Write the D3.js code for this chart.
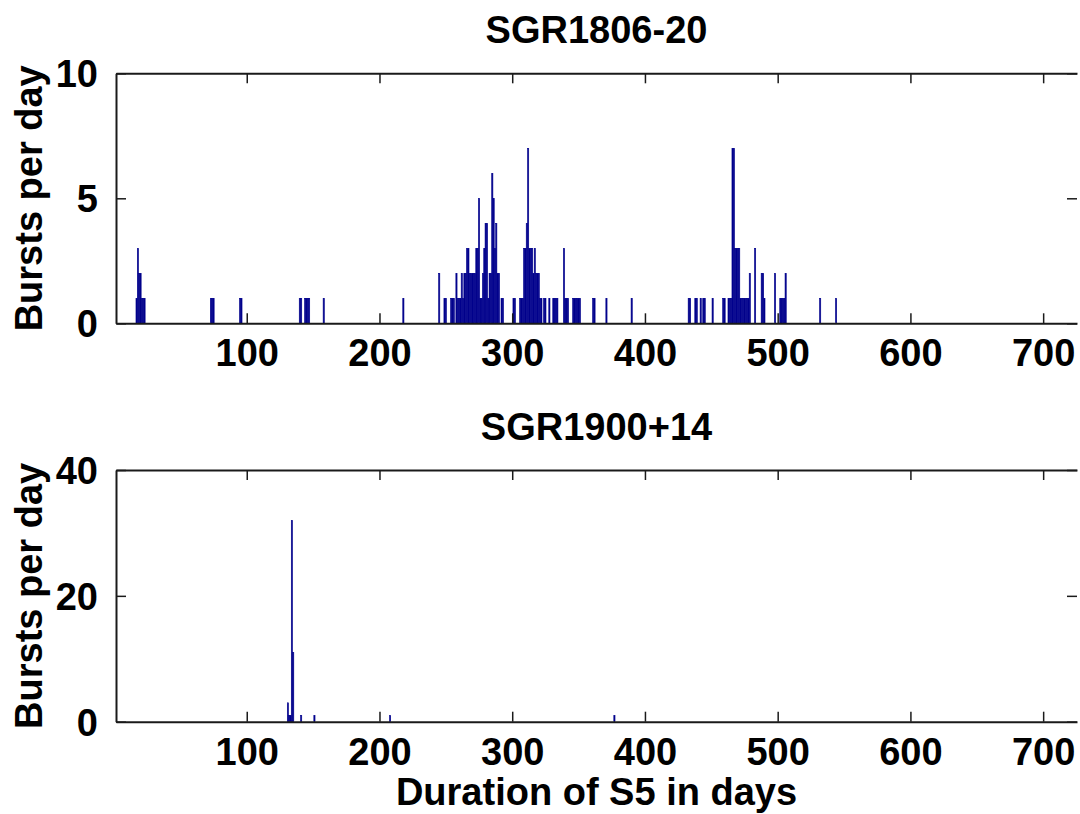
<!DOCTYPE html>
<html>
<head>
<meta charset="utf-8">
<script src="https://cdn.jsdelivr.net/npm/d3@7"></script>
<style>
  body { margin: 0; background: #fff; }
  text { font-family: "Liberation Sans", Arial, Helvetica, sans-serif; font-weight: bold; fill: #000; }
</style>
</head>
<body>
<div id="plot"></div>
<script>
// days with at least one burst, and the count for that day
var sgr1806Days = [17, 18, 19, 20, 21, 22, 23, 73, 74, 75, 95, 96, 140, 141, 144, 145, 146, 147, 158, 218,
  245, 249, 250, 254, 255, 256, 258, 259, 260, 261, 262, 263, 264, 265, 266, 267, 268, 269, 270, 271, 272,
  273, 274, 275, 276, 277, 278, 279, 280, 281, 282, 283, 284, 285, 286, 287, 288, 289, 290, 292, 293,
  301, 302, 306, 307, 308, 309, 310, 311, 312, 313, 314, 315, 316, 317, 318, 319, 320, 321, 322,
  324, 325, 328, 331, 332, 333, 334, 339, 340, 341, 342, 346, 347, 348, 349, 350, 351, 361, 362, 371, 390,
  433, 434, 438, 439, 442, 444, 445, 451, 459, 460, 463, 464, 465, 466, 467, 468, 469, 470, 471,
  472, 473, 474, 475, 476, 477, 478, 479, 483, 488, 489, 490, 498, 502, 503, 504, 505, 506, 532, 544];
var sgr1806Counts = [1, 3, 2, 2, 1, 1, 1, 1, 1, 1, 1, 1, 1, 1, 1, 1, 1, 1, 1, 1,
  2, 1, 1, 1, 1, 1, 2, 1, 1, 1, 2, 1, 2, 2, 3, 3, 2, 2, 2, 2, 2,
  3, 3, 5, 1, 1, 2, 3, 4, 4, 1, 2, 2, 6, 5, 3, 4, 2, 2, 1, 1,
  1, 1, 1, 1, 1, 3, 3, 4, 7, 3, 3, 3, 2, 3, 2, 2, 2, 1, 1,
  1, 1, 1, 1, 1, 1, 1, 3, 1, 1, 1, 1, 1, 1, 1, 1, 1, 1, 1, 1, 1,
  1, 1, 1, 1, 1, 1, 1, 1, 1, 1, 1, 1, 1, 7, 7, 3, 3, 3, 3,
  1, 1, 1, 1, 1, 1, 1, 2, 3, 2, 2, 1, 2, 1, 1, 1, 1, 2, 1, 1];

var sgr1900Days = [131, 132, 133, 134, 135, 141, 151, 208, 377];
var sgr1900Counts = [3, 1, 1, 32, 11, 1, 1, 1, 1];

var xTicks = [100, 200, 300, 400, 500, 600, 700];
var sgr1806Ticks = [0, 5, 10];
var sgr1900Ticks = [0, 20, 40];

var svgwidth = 1080;
var svgheight = 814;
var barColor = "#00008c";
var axisColor = "#1a1a1a";

var svg = d3.select("#plot").append("svg").attr("width", svgwidth).attr("height", svgheight);

var xScale = d3.scaleLinear().domain([1.5, 725.5]).range([116, 1077]);

var panel = function (title, days, counts, yMax, yTicks, top, bottom) {
  var yScale = d3.scaleLinear().domain([0, yMax]).range([bottom, top]);
  var g = svg.append("g");
  var data = days.map(function (d, i) { return {day: d, n: counts[i]}; });

  g.selectAll("rect.bar")
    .data(data).enter().append("rect")
    .attr("class", "bar")
    .attr("x", function (d) { return xScale(d.day - 0.45); })
    .attr("width", function (d) { return xScale(d.day + 0.45) - xScale(d.day - 0.45); })
    .attr("y", function (d) { return yScale(d.n); })
    .attr("height", function (d) { return yScale(0) - yScale(d.n); })
    .attr("fill", barColor)
    .attr("stroke", barColor)
    .attr("stroke-width", 0.6);

  // matlab style box: ticks point inwards on all sides, labels bottom and left
  var xAxisB = d3.axisBottom(xScale).tickValues(xTicks).tickSizeInner(-10).tickSizeOuter(0).tickPadding(16);
  var xAxisT = d3.axisTop(xScale).tickValues(xTicks).tickSizeInner(-10).tickSizeOuter(0).tickFormat("");
  var yAxisL = d3.axisLeft(yScale).tickValues(yTicks).tickSizeInner(-10).tickSizeOuter(0).tickPadding(18);
  var yAxisR = d3.axisRight(yScale).tickValues(yTicks).tickSizeInner(-10).tickSizeOuter(0).tickFormat("");

  var gx = g.append("g").attr("transform", "translate(0," + bottom + ")").call(xAxisB);
  g.append("g").attr("transform", "translate(0," + top + ")").call(xAxisT);
  var gy = g.append("g").attr("transform", "translate(116,0)").call(yAxisL);
  g.append("g").attr("transform", "translate(1077,0)").call(yAxisR).select(".domain").remove();

  g.selectAll(".domain").attr("stroke", axisColor).attr("stroke-width", 2);
  g.selectAll(".tick line").attr("stroke", axisColor).attr("stroke-width", 1.5);
  g.selectAll(".tick text").style("font-size", "38px").style("font-family", "'Liberation Sans', Arial, sans-serif")
    .style("font-weight", "bold").attr("fill", "#000");
  gx.selectAll(".tick text").attr("dy", "0.71em");
  gy.selectAll(".tick text").attr("dy", "0.36em");

  g.append("text")
    .attr("x", (116 + 1077) / 2).attr("y", top - 30)
    .attr("text-anchor", "middle").style("font-size", "38px")
    .text(title);

  g.append("text")
    .attr("transform", "translate(42," + ((top + bottom) / 2) + ") rotate(-90)")
    .attr("text-anchor", "middle").style("font-size", "38px")
    .text("Bursts per day");
};

panel("SGR1806-20", sgr1806Days, sgr1806Counts, 10, sgr1806Ticks, 73.3, 323.3);
panel("SGR1900+14", sgr1900Days, sgr1900Counts, 40, sgr1900Ticks, 470, 721.7);

svg.append("text")
  .attr("x", (116 + 1077) / 2).attr("y", 805)
  .attr("text-anchor", "middle").style("font-size", "38px")
  .text("Duration of S5 in days");
</script>
</body>
</html>
